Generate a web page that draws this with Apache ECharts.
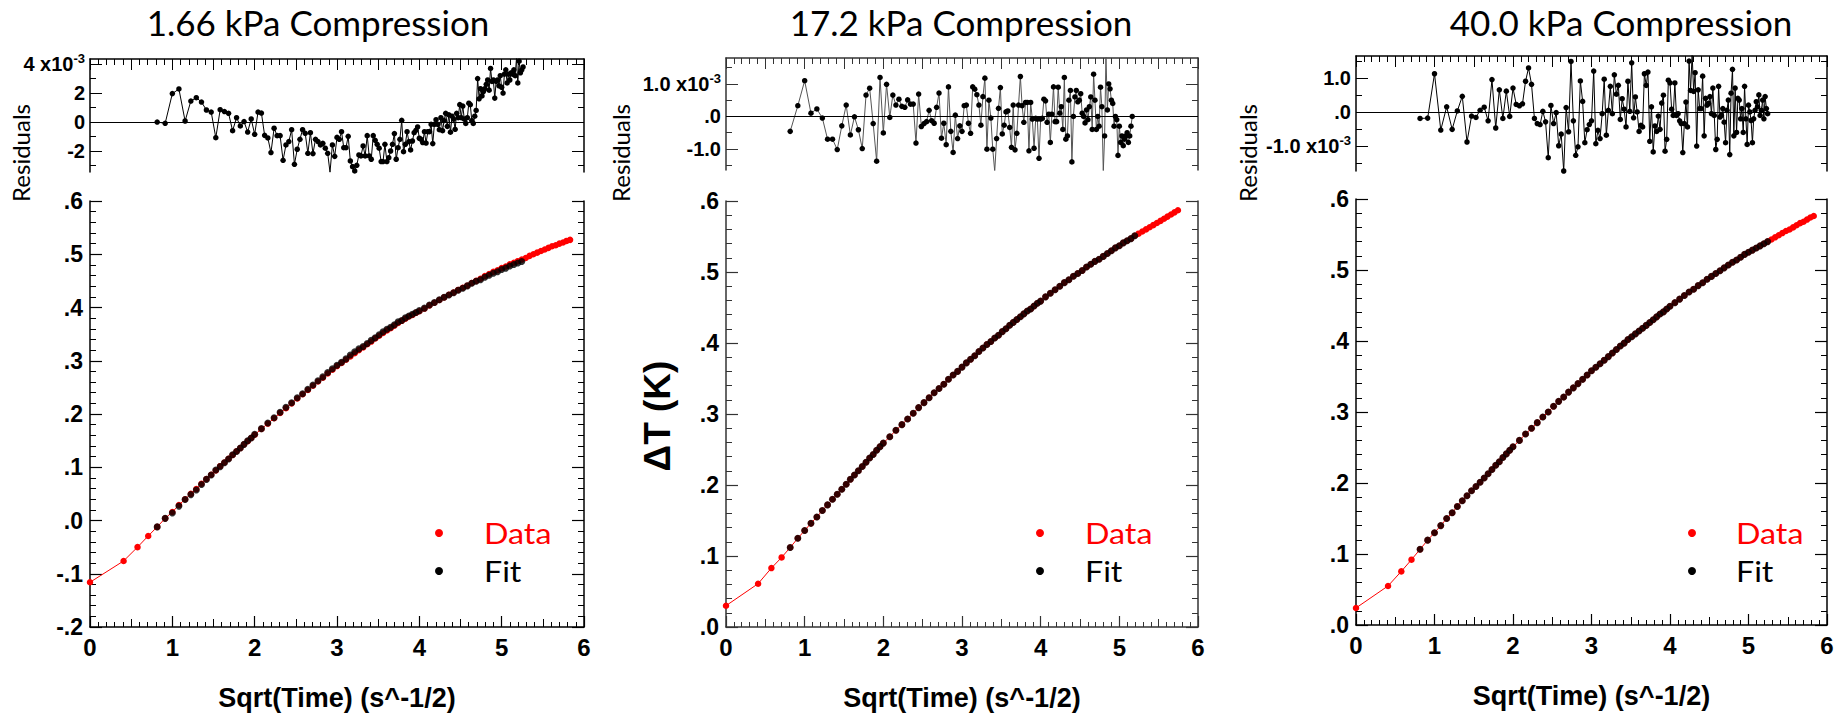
<!DOCTYPE html>
<html><head><meta charset="utf-8">
<script src="https://cdn.jsdelivr.net/npm/echarts@6/dist/echarts.min.js"></script>
<style>html,body{margin:0;padding:0;background:#fff}#c{width:1845px;height:715px}</style>
</head><body><div id="c"></div>
<script>
// ---- sample positions (Sqrt(Time)) for the main curves ----
const sqrtTime = [0,0.408,0.577,0.707,0.816,0.913,1,1.080,1.155,1.225,1.291,1.354,1.414,1.472,1.528,1.581,1.633,1.683,1.732,1.780,1.826,1.871,1.915,1.958,2,
2.082,2.160,2.236,2.309,2.380,2.449,2.517,2.582,2.646,2.708,2.769,2.828,2.887,2.944,3,3.055,3.109,3.162,3.215,3.266,3.317,3.367,3.416,3.464,3.512,3.559,3.606,3.651,3.697,3.742,3.786,3.830,3.873,3.916,3.958,4,
4.062,4.123,4.183,4.243,4.301,4.359,4.416,4.472,4.528,4.583,4.637,4.690,4.743,4.796,4.848,4.899,4.950,5,5.050,5.099,5.148,5.196,5.244,5.292,5.339,5.385,5.431,5.477,5.523,5.568,5.612,5.657,5.701,5.745,5.788,5.831];

// ---- panel 1 (1.66 kPa) ----
const data1 = [-0.116,-0.076,-0.050,-0.029,-0.012,0.004,0.016,0.029,0.040,0.050,0.059,0.069,0.078,0.086,0.094,0.102,0.109,0.116,0.123,0.130,0.136,0.143,0.149,0.155,0.161,
0.172,0.182,0.192,0.202,0.211,0.220,0.229,0.237,0.245,0.253,0.261,0.268,0.276,0.283,0.290,0.296,0.302,0.308,0.314,0.320,0.325,0.331,0.336,0.342,0.347,0.352,0.357,0.361,0.366,0.371,0.375,0.379,0.383,0.386,0.390,0.393,
0.398,0.404,0.409,0.414,0.419,0.424,0.428,0.433,0.437,0.441,0.446,0.450,0.454,0.459,0.463,0.467,0.470,0.474,0.477,0.481,0.484,0.487,0.490,0.493,0.497,0.500,0.503,0.506,0.509,0.512,0.515,0.517,0.520,0.522,0.525,0.527];
const fit1 = [null,null,null,null,-0.012,0.004,0.014,0.027,0.0395,0.0486,0.0574,0.0676,0.0772,0.0853,0.095,0.1012,0.1083,0.1154,0.1236,0.1297,0.1363,0.143,0.1497,0.1548,0.1618,
0.1725,0.183,0.1928,0.2032,0.2125,0.221,0.2305,0.238,0.2465,0.2545,0.2624,0.2697,0.278,0.285,0.2915,0.2972,0.3035,0.3107,0.317,0.3223,0.3268,0.3325,0.3383,0.3433,0.3488,0.3545,0.359,0.363,0.3675,0.373,0.3755,0.3805,0.384,0.3873,0.3906,0.3941,
0.3988,0.4047,0.4093,0.4144,0.4192,0.4236,0.4278,0.4325,0.4362,0.4406,0.4454,0.4492,0.452,0.4567,0.4605,0.4642,0.4672,0.4714,0.474,0.4779,0.4806,0.4835,0.4863];

// ---- panel 2 (17.2 kPa) ----
const data2 = [0.030,0.061,0.083,0.098,0.112,0.125,0.136,0.146,0.155,0.164,0.172,0.180,0.187,0.194,0.201,0.208,0.214,0.220,0.226,0.232,0.238,0.243,0.249,0.254,0.259,
0.268,0.277,0.285,0.293,0.301,0.309,0.316,0.323,0.330,0.336,0.342,0.349,0.355,0.360,0.366,0.372,0.377,0.382,0.388,0.393,0.398,0.402,0.407,0.411,0.416,0.420,0.425,0.429,0.433,0.437,0.441,0.445,0.448,0.452,0.456,0.459,
0.465,0.470,0.475,0.480,0.485,0.489,0.494,0.498,0.502,0.507,0.511,0.515,0.518,0.522,0.526,0.530,0.534,0.537,0.541,0.544,0.547,0.551,0.554,0.557,0.560,0.563,0.566,0.569,0.572,0.575,0.578,0.581,0.584,0.587];
const fit2 = [null,null,null,null,0.112,0.125,0.136,0.146,0.155,0.164,0.172,0.180,0.187,0.194,0.201,0.208,0.214,0.220,0.226,0.232,0.238,0.243,0.249,0.254,0.259,
0.268,0.277,0.285,0.293,0.301,0.309,0.316,0.323,0.330,0.336,0.342,0.349,0.355,0.360,0.366,0.372,0.377,0.382,0.388,0.393,0.398,0.402,0.407,0.411,0.416,0.420,0.425,0.429,0.433,0.437,0.441,0.445,0.448,0.452,0.456,0.459,
0.465,0.470,0.475,0.480,0.485,0.489,0.494,0.498,0.502,0.507,0.511,0.515,0.518,0.522,0.526,0.530,0.534,0.537,0.541,0.544,0.547,0.551];

// ---- panel 3 (40.0 kPa) ----
const data3 = [0.024,0.055,0.0755,0.092,0.1066,0.1195,0.130,0.140,0.150,0.158,0.167,0.175,0.182,0.189,0.195,0.201,0.207,0.213,0.219,0.225,0.230,0.236,0.241,0.246,0.251,
0.260,0.269,0.277,0.285,0.293,0.300,0.308,0.315,0.321,0.328,0.334,0.340,0.346,0.352,0.358,0.363,0.368,0.373,0.378,0.383,0.388,0.393,0.397,0.402,0.406,0.410,0.414,0.418,0.422,0.426,0.430,0.434,0.438,0.441,0.445,0.449,
0.454,0.459,0.464,0.469,0.473,0.478,0.482,0.487,0.491,0.495,0.499,0.503,0.507,0.511,0.514,0.518,0.522,0.525,0.528,0.531,0.534,0.537,0.540,0.543,0.546,0.549,0.552,0.555,0.557,0.560,0.563,0.566,0.568,0.571,0.574,0.576];
const fit3 = [null,null,null,null,0.1066,0.1195,0.130,0.140,0.150,0.158,0.167,0.175,0.182,0.189,0.195,0.201,0.207,0.213,0.219,0.225,0.230,0.236,0.241,0.246,0.251,
0.260,0.269,0.277,0.285,0.293,0.300,0.308,0.315,0.321,0.328,0.334,0.340,0.346,0.352,0.358,0.363,0.368,0.373,0.378,0.383,0.388,0.393,0.397,0.402,0.406,0.410,0.414,0.418,0.422,0.426,0.430,0.434,0.438,0.441,0.445,0.449,
0.454,0.459,0.464,0.469,0.473,0.478,0.482,0.487,0.491,0.495,0.499,0.503,0.507,0.511,0.514,0.518,0.522,0.525,0.528,0.531,0.534,0.537,0.540];

// ---- residual sample positions ----
const residX = [0.816,0.913,1,1.080,1.155,1.225,1.291,1.354,1.414,1.472,1.528,1.581,1.633,1.683,1.732,1.780,1.826,1.871,1.915,1.958,2,2.041,2.082,2.121,2.160,2.198,2.236,2.273,2.309,2.345,2.380,2.415,2.449,2.483,2.517,2.550,2.582,2.614,2.646,2.677,2.708,2.739,2.769,2.799,2.828,2.858,2.887,2.915,2.944,2.972,3,
3.028,3.055,3.082,3.109,3.136,3.162,3.189,3.215,3.240,3.266,3.291,3.317,3.342,3.367,3.391,3.416,3.440,3.464,3.488,3.512,3.536,3.559,3.582,3.606,3.629,3.651,3.674,3.697,3.719,3.742,3.764,3.786,3.808,3.830,3.851,3.873,3.894,3.916,3.937,3.958,3.979,4,
4.021,4.041,4.062,4.082,4.103,4.123,4.143,4.163,4.183,4.203,4.223,4.243,4.262,4.282,4.301,4.320,4.340,4.359,4.378,4.397,4.416,4.435,4.453,4.472,4.491,4.509,4.528,4.546,4.564,4.583,4.601,4.619,4.637,4.655,4.673,4.690,4.708,4.726,4.743,4.761,4.778,4.796,4.813,4.830,4.848,4.865,4.882,4.899,4.916,4.933,4.950,4.967,4.983,5,
5.017,5.033,5.050,5.066,5.083,5.099,5.115,5.132,5.148,5.164,5.180,5.196,5.212,5.228,5.244,5.260];

// residuals in units of 1e-3 K
const res1 = [0.0,-0.09,1.96,2.28,0.07,1.45,1.68,1.38,0.83,0.69,-1.08,0.85,0.72,0.60,-0.60,0.30,-0.27,0.03,-0.69,0.21,-0.85,0.69,0.62,-0.92,-1.10,-2.11,-0.43,-0.94,-0.94,-2.64,-1.58,
-1.35,-0.53,-2.92,-1.88,-1.19,-0.53,-0.78,-2.16,-0.74,-2.18,-1.19,-1.35,-1.58,-1.47,-1.81,-2.16,-3.47,-1.58,-2.37,-1.06,-1.19,-0.67,-1.77,-1.77,-0.99,-2.69,-3.08,-3.38,-2.99,-2.27,-2.34,-1.65,-2.34,-0.94,-2.34,-2.57,-0.94,-1.26,-1.54,-1.81,-2.73,-2.73,-1.54,-2.73,-2.46,-2.0,-1.54,-0.8,-2.57,-1.77,-1.19,0.12,-2.05,-1.54,-0.67,-1.35,-1.93,-1.31,-0.74,-0.57,-0.34,-1.12,-1.19,-1.42,-0.67,-1.45,-0.67,-0.67,-0.16,-1.49,-0.16,0.16,-0.16,-0.53,
0.3,-0.6,0.1,0.6,-0.3,0.5,-0.7,0.4,0.2,-0.5,0.6,0.3,1.2,0.3,1.1,0.2,-0.1,0.3,1.3,1.2,0.1,-0.1,0.4,0.8,3.0,1.6,2.3,1.8,2.1,2.3,2.6,2.9,2.2,3.7,2.8,2.9,1.65,2.8,2.9,2.5,3.2,2.4,2.0,3.3,3.6,2.7,3.3,2.9,3.4,3.3,3.6,3.2,4.4,2.7,4.2,3.4,3.6,3.8];
const res2 = [-0.46,0.33,1.10,0.10,0.23,-0.05,-0.70,-0.70,-1.02,-0.29,0.35,-0.57,-0.01,-0.41,-0.99,0.66,0.87,-0.22,-1.38,1.20,-0.51,0.99,-0.03,0.66,0.35,0.53,0.31,
0.28,0.51,0.38,0.38,-0.82,0.69,-0.31,-0.22,-0.16,0.19,-0.13,-0.21,0.28,0.72,-0.67,-0.21,-0.87,0.91,-0.46,-1.11,0.04,-0.68,-0.29,-0.46,0.33,0.35,-0.21,-0.52,0.91,0.84,0.67,0.35,-0.27,0.61,1.18,-1.01,0.50,-0.05,-1.01,-1.69,-0.68,0.25,0.89,-0.54,-0.27,0.14,0.17,-0.34,-0.95,0.35,-1.03,-0.52,0.35,1.23,0.33,-0.18,0.43,0.43,-1.06,0.43,-0.08,-0.98,-0.06,-0.08,-1.29,-0.08,-0.06,0.53,0.48,-0.18,0.07,-0.80,0.07,0.91,-0.16,-0.16,
0.9,0.1,0.3,-0.4,1.2,-0.7,-0.6,0.5,0.8,-1.4,0.0,0.6,0.8,0.45,0.5,0.7,0.1,0.0,-0.2,0.2,-0.1,0.3,0.6,-0.4,1.3,0.5,-0.4,0.0,-0.3,0.9,0.3,-1.7,-0.6,1.85,0.2,1.0,0.85,0.5,0.4,-0.3,0.0,-0.1,-1.2,-0.3,-0.8,-0.6,-0.9,-0.7,-0.6,-0.5,-0.8,-0.6,-0.3,0.0];
const res3 = [-0.19,-0.18,1.12,-0.53,0.15,-0.51,0.03,0.46,-0.88,-0.12,-0.16,0.05,0.14,-0.26,0.95,-0.47,0.65,-0.19,0.61,-0.13,0.70,0.22,0.18,0.24,0.90,1.29,0.81,-0.19,-0.34,
-0.37,0.02,-0.29,-1.34,0.19,-0.34,-0.02,-0.99,-0.65,-1.73,0.13,-0.58,1.48,-0.26,-1.27,-1.02,0.91,0.31,-0.90,-0.52,-0.37,-0.26,1.20,-0.93,-0.54,-0.78,-0.05,0.96,-0.68,0.05,0.75,-0.05,1.09,0.52,0.78,-0.22,0.39,0.08,-0.44,0.90,0.02,1.44,-0.17,0.44,0.0,-0.57,-0.39,-0.44,1.12,0.78,1.17,-0.86,0.15,-1.17,-0.41,-0.57,-0.12,-0.51,0.26,0.49,-1.15,-0.80,0.93,0.85,0.08,-0.10,0.85,-0.10,-0.05,-0.26,-0.34,-1.19,-0.34,0.29,-0.44,1.49,0.63,
1.7,0.6,1.15,-1.0,0.65,0.1,0.1,1.05,-0.7,0.4,0.2,0.25,0.45,-0.05,0.7,-0.1,-1.1,-0.8,0.75,-0.15,-0.1,0.1,-0.3,-0.9,0.05,0.35,-1.25,0.55,1.25,-0.7,0.7,-0.6,0.4,0.35,-0.2,0.1,-0.6,0.75,-0.2,-0.95,0.2,0.0,-0.25,-0.9,-0.2,0.05,0.3,0.15,0.5,-0.1,0.05,0.35,-0.2,0.45,0.1,-0.05];

// ---- tick values and labels ----
const xTicks = [0,1,2,3,4,5,6];
const xTickLabels = ['0','1','2','3','4','5','6'];
const yTicksP1 = [-0.2,-0.1,0,0.1,0.2,0.3,0.4,0.5,0.6];
const yLabelsP1 = ['-.2','-.1','.0','.1','.2','.3','.4','.5','.6'];
const yTicksP23 = [0,0.1,0.2,0.3,0.4,0.5,0.6];
const yLabelsP23 = ['.0','.1','.2','.3','.4','.5','.6'];
const resTicks1 = [-2,0,2,4];
const resLabels1 = ['-2','0','2','4 x10^-3'];
const resMinor1 = [-3,-1,1,3];
const resTicks2 = [-1,0,1];
const resLabels2 = ['-1.0','.0','1.0 x10^-3'];
const resMinor2 = [-1.5,-0.5,0.5,1.5];
const resTicks3 = [-1,0,1];
const resLabels3 = ['-1.0 x10^-3','.0','1.0'];
const resMinor3 = [-1.5,-0.5,0.5,1.5];

const titles = ['1.66 kPa Compression','17.2 kPa Compression','40.0 kPa Compression'];
const xName = 'Sqrt(Time) (s^-1/2)';
const yName = '\u0394T (K)';
const resName = 'Residuals';
const legendNames = ['Data','Fit'];

// ---- layout ----
const FA = '"Liberation Sans", Arial, sans-serif';
const FT = 'Lato, "Open Sans", sans-serif';
const panels = [
  {title:titles[0], titleX:318, resTitleX:20, mainBox:{left:90,top:201,width:494,height:426}, resBox:{left:90,top:59,width:494,height:113},
   yMin:-0.2, yMax:0.6, yTicks:yTicksP1, yLabels:yLabelsP1, rMin:-3.45, rMax:4.35, rTicks:resTicks1, rLabels:resLabels1, rMinor:resMinor1,
   data:data1, fit:fit1, resid:res1, legX:439, legTX:484, C:'#000', resLine:'#000'},
  {title:titles[1], titleX:961, resTitleX:620, mainBox:{left:726,top:201,width:472,height:426}, resBox:{left:726,top:58,width:472,height:112},
   yMin:0, yMax:0.6, yTicks:yTicksP23, yLabels:yLabelsP23, rMin:-1.65, rMax:1.8, rTicks:resTicks2, rLabels:resLabels2, rMinor:resMinor2,
   data:data2, fit:fit2, resid:res2, legX:1040, legTX:1085, C:'#333', resLine:'#555'},
  {title:titles[2], titleX:1621, resTitleX:1247, mainBox:{left:1356,top:199,width:471,height:426}, resBox:{left:1356,top:56,width:471,height:115},
   yMin:0, yMax:0.6, yTicks:yTicksP23, yLabels:yLabelsP23, rMin:-1.73, rMax:1.64, rTicks:resTicks3, rLabels:resLabels3, rMinor:resMinor3,
   data:data3, fit:fit3, resid:res3, legX:1692, legTX:1736, C:'#000', resLine:'#000'}
];

function lab(ticks, labels, v){ for (let i=0;i<ticks.length;i++){ if (Math.abs(ticks[i]-v)<1e-6) return labels[i]; } return ''; }
function richLab(ticks, labels){ return function(v){ const s = lab(ticks, labels, v); const k = s.indexOf('^'); return k<0 ? '{b|'+s+'}' : '{b|'+s.slice(0,k)+'}{s|'+s.slice(k+1)+'}'; }; }
function pairs(xs, ys){ const out=[]; for (let i=0;i<ys.length;i++){ if (ys[i]!==null && ys[i]!==undefined) out.push([xs[i], ys[i]]); } return out; }

const grid=[], xAxis=[], yAxis=[], series=[], graphic=[];
const richStyle = {
  b:{fontFamily:FA, fontWeight:'bold', fontSize:20, color:'#000', lineHeight:24},
  s:{fontFamily:FA, fontWeight:'bold', fontSize:13, color:'#000', lineHeight:13, verticalAlign:'top'}
};
panels.forEach(function(p, i){
  const C = p.C;
  const gm = grid.length; grid.push(Object.assign({outerBoundsMode:'none', containLabel:false}, p.mainBox));
  const gr = grid.length; grid.push(Object.assign({outerBoundsMode:'none', containLabel:false}, p.resBox));
  const ax = xAxis.length;
  const line = {show:true, onZero:false, lineStyle:{color:C, width:1.5}};
  const noLine = {show:false, onZero:false};
  xAxis.push({type:'value', gridIndex:gm, min:0, max:6, interval:1, position:'bottom',
    axisLine:line, axisTick:{show:true, inside:true, length:11, lineStyle:{color:C, width:1.2}},
    minorTick:{show:true, splitNumber:10, length:5, lineStyle:{color:C, width:1}},
    splitLine:{show:false}, minorSplitLine:{show:false},
    axisLabel:{show:true, margin:8, fontFamily:FA, fontWeight:'bold', fontSize:24, color:'#000', formatter:function(v){return lab(xTicks, xTickLabels, v);}},
    name:xName, nameLocation:'middle', nameGap:57, nameTextStyle:{fontFamily:FA, fontWeight:'bold', fontSize:27, color:'#000'}});
  xAxis.push({type:'value', gridIndex:gm, min:0, max:6, interval:0.5, position:'bottom',
    axisLine:noLine, axisTick:{show:true, inside:true, length:8, lineStyle:{color:C, width:1}},
    axisLabel:{show:false}, splitLine:{show:false}});
  xAxis.push({type:'value', gridIndex:gr, min:0, max:6, interval:0.5, position:'top',
    axisLine:line, axisTick:{show:true, inside:true, length:11, lineStyle:{color:C, width:1}},
    minorTick:{show:true, splitNumber:5, length:6, lineStyle:{color:C, width:1}},
    axisLabel:{show:false}, splitLine:{show:false}, minorSplitLine:{show:false}});

  const ay = yAxis.length;
  const mainY = function(pos, showLabel){ return {type:'value', gridIndex:gm, min:p.yMin, max:p.yMax, interval:0.1, position:pos,
    axisLine:line, axisTick:{show:true, inside:true, length:12, lineStyle:{color:C, width:1.2}},
    minorTick:{show:true, splitNumber:5, length:6, lineStyle:{color:C, width:1}},
    splitLine:{show:false}, minorSplitLine:{show:false},
    axisLabel:{show:showLabel, margin:7, fontFamily:FA, fontWeight:'bold', fontSize:23, color:'#000', formatter:function(v){return lab(p.yTicks, p.yLabels, v);}}}; };
  yAxis.push(mainY('left', true));
  yAxis.push(mainY('right', false));
  const resY = function(pos, major, showLabel){ return {type:'value', gridIndex:gr, min:p.rMin, max:p.rMax, position:pos,
    axisLine: major ? line : noLine,
    axisTick:{show:true, inside:true, length: major ? 12 : 6, customValues: major ? p.rTicks : p.rMinor, lineStyle:{color:C, width:1}},
    splitLine:{show:false},
    axisLabel: showLabel ? {show:true, customValues:p.rTicks, margin:5, formatter:richLab(p.rTicks, p.rLabels), rich:richStyle} : {show:false}}; };
  yAxis.push(resY('left', true, true));
  yAxis.push(resY('left', false, false));
  yAxis.push(resY('right', true, false));
  yAxis.push(resY('right', false, false));

  series.push({type:'line', name:legendNames[0], xAxisIndex:ax, yAxisIndex:ay, data:pairs(sqrtTime, p.data),
    symbol:'circle', symbolSize:6.5, showSymbol:true, itemStyle:{color:'#ff0000'}, lineStyle:{color:'#ff0000', width:1}, z:2, animation:false, silent:true});
  series.push({type:'scatter', name:legendNames[1], xAxisIndex:ax, yAxisIndex:ay, data:pairs(sqrtTime, p.fit),
    symbol:'circle', symbolSize:7, itemStyle:{color:'#000'}, z:3, animation:false, silent:true});
  series.push({type:'line', name:'Residuals'+i, xAxisIndex:ax+2, yAxisIndex:ay+2, data:pairs(residX, p.resid),
    symbol:'circle', symbolSize:5.5, showSymbol:true, itemStyle:{color:'#000'}, lineStyle:{color:p.resLine, width:1}, z:3, animation:false, silent:true,
    markLine:{silent:true, symbol:['none','none'], label:{show:false}, lineStyle:{color:'#000', width:1.2, type:'solid'}, data:[{yAxis:0}], animation:false}});

  graphic.push({type:'text', x:p.titleX, y:22, style:{text:p.title, fontFamily:FT, fontSize:35, fill:'#000', align:'center', verticalAlign:'middle'}});
  graphic.push({type:'text', x:p.resTitleX, y:153, rotation:Math.PI/2, style:{text:resName, fontFamily:FT, fontSize:24, fill:'#000', align:'center', verticalAlign:'middle'}});
  graphic.push({type:'circle', shape:{cx:p.legX, cy:533, r:4}, style:{fill:'#ff0000'}});
  graphic.push({type:'text', x:p.legTX, y:533, scaleX:1.15, style:{text:legendNames[0], fontFamily:FT, fontSize:28, fill:'#ff0000', align:'left', verticalAlign:'middle'}});
  graphic.push({type:'circle', shape:{cx:p.legX, cy:571, r:4}, style:{fill:'#000'}});
  graphic.push({type:'text', x:p.legTX, y:571, scaleX:1.15, style:{text:legendNames[1], fontFamily:FT, fontSize:28, fill:'#000', align:'left', verticalAlign:'middle'}});
});
graphic.push({type:'text', x:657, y:416, rotation:Math.PI/2, style:{text:yName, fontFamily:FA, fontWeight:'bold', fontSize:37, fill:'#000', align:'center', verticalAlign:'middle'}});

const chart = echarts.init(document.getElementById('c'), null, {renderer:'svg', width:1845, height:715});
chart.setOption({backgroundColor:'#fff', animation:false, grid:grid, xAxis:xAxis, yAxis:yAxis, series:series, graphic:graphic, tooltip:{show:false}});
</script></body></html>
